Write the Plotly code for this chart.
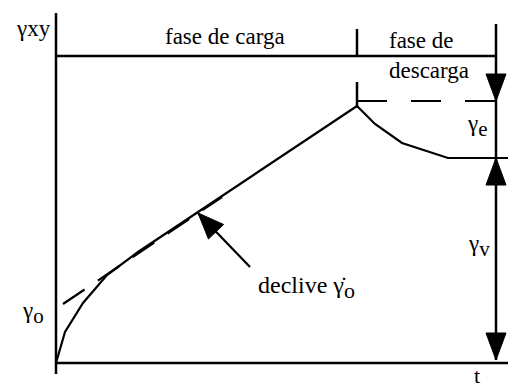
import math
import plotly.graph_objects as go

# curva de fluência (t, γ) — unidades escolhidas: 1 unidade = 1 px no ecrã
t_load = [0, 9, 27, 51, 82, 301]
g_load = [0, 31, 60, 88, 111, 257]
t_unload = [301, 319, 346, 392, 414]
g_unload = [257, 239, 220, 205, 205]
# tangente inicial (declive γ̇o)
t_tan = [7, 166]
g_tan = [59, 166]

T_PEAK, T_END, T_AXIS = 301, 440, 457
G_AXIS, G_TOP, G_E, G_V = 350, 307, 262, 205

FONT = "Liberation Serif, Times New Roman, serif"
BLACK = "#000"

fig = go.Figure()


def seg(xs, ys, width=2.2, dash=None):
    fig.add_trace(go.Scatter(x=xs, y=ys, mode="lines", hoverinfo="skip", showlegend=False,
                             line=dict(color=BLACK, width=width, dash=dash)))


def head(tip, tail, length=27, width=20):
    """triângulo cheio com a ponta em tip, orientado a partir de tail."""
    dx, dy = tip[0] - tail[0], tip[1] - tail[1]
    n = math.hypot(dx, dy)
    ux, uy = dx / n, dy / n
    bx, by = tip[0] - ux * length, tip[1] - uy * length
    px, py = -uy * width / 2, ux * width / 2
    fig.add_trace(go.Scatter(x=[tip[0], bx + px, bx - px, tip[0]],
                             y=[tip[1], by + py, by - py, tip[1]],
                             mode="lines", fill="toself", fillcolor=BLACK,
                             line=dict(color=BLACK, width=1), hoverinfo="skip",
                             showlegend=False))


def sub(base, s, size=21):
    return f"{base}<sub><span style='font-size:{size}px'>{s}</span></sub>"


# eixos
seg([0, 0], [-11, G_AXIS], width=2.5)
seg([0, T_AXIS], [0, 0], width=2.5)
# faixa das fases
seg([0, T_END], [G_TOP, G_TOP], width=2.5)
seg([T_PEAK, T_PEAK], [G_TOP, G_TOP + 27], width=2.5)
seg([T_END, T_END], [3, G_TOP + 32], width=2.5)
# traço vertical no pico + nível γe tracejado
seg([T_PEAK, T_PEAK], [g_load[-1] - 2, g_load[-1] + 24], width=2.5)
seg([T_PEAK, T_END], [G_E, G_E], width=2.2, dash="30px,24px")
# nível residual
seg([t_unload[-2], T_AXIS + 3], [G_V, G_V], width=1.8)

# curva
seg(t_load, g_load, width=2.2)
seg(t_unload, g_unload, width=2.2)
seg(t_tan, g_tan, width=2.2, dash="26px,16px")

# setas (cotas γe, γv)
head((T_END, G_E), (T_END, G_E + 40))
head((T_END, G_V), (T_END, G_V - 40))
head((T_END, 3), (T_END, 40))
# seta do declive
tail, tip = (194, 96), (142, 150)
seg([tail[0], tip[0]], [tail[1], tip[1]], width=2.2)
head(tip, tail, length=26, width=21)

labels = [
    ("γxy", -3, 335, "right", 23),
    ("fase de carga", 169, 327, "center", 23),
    ("fase de<br>descarga", 331, 308, "left", 23),
    (sub("γ", "e"), 434, 237, "right", 23),
    (sub("γ", "v"), 436, 117, "right", 23),
    (sub("γ", "o"), -10, 50, "right", 23),
    ("declive " + sub("γ̇", "o", 22), 200, 76, "left", 24),
    ("t", 421, -12, "center", 22),
]
for txt, x, y, xa, size in labels:
    fig.add_annotation(x=x, y=y, text=txt, showarrow=False, xanchor=xa, yanchor="middle",
                       align="left", font=dict(family=FONT, size=size, color=BLACK))

# a página tem 8 px de margem: figura 508x380, eixos deslocados para compensar
fig.update_layout(width=508, height=380, margin=dict(l=0, r=0, t=0, b=0),
                  paper_bgcolor="white", plot_bgcolor="white", showlegend=False)
fig.update_xaxes(visible=False, range=[-48, 460], fixedrange=True)
fig.update_yaxes(visible=False, range=[-25, 355], fixedrange=True)

fig.write_html("out.html")
